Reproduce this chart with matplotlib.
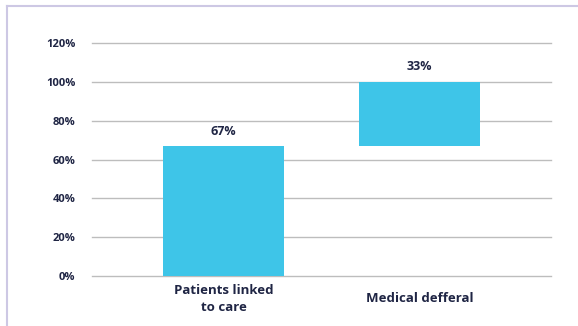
import matplotlib
matplotlib.use('Agg')
import matplotlib.pyplot as plt
from matplotlib.lines import Line2D
import numpy as np

# Waterfall data
categories = ['Patients linked\nto care', 'Medical defferal']
values = [67, 33]
bottoms = [0, 67]
yticks = [0, 20, 40, 60, 80, 100, 120]

bar_color = '#3ec5e8'
text_color = '#1f2544'
font = 'Open Sans'

fig = plt.figure(figsize=(5.78, 3.26), dpi=100)
ax = fig.add_axes([92 / 578, 50 / 326, 459 / 578, 233 / 326])

x = np.arange(len(categories))
bars = ax.bar(x, values, bottom=bottoms, width=0.622, color=bar_color, zorder=2)

# value labels above bars
for xi, v, b in zip(x, values, bottoms):
    ax.annotate('%d%%' % v, (xi, b + v), xytext=(0, 6), textcoords='offset points',
                ha='center', va='bottom', fontsize=9, fontweight='bold',
                color=text_color, family=font)

ax.set_xlim(-0.671, 1.671)
ax.set_ylim(0, 120)
ax.set_yticks(yticks)
ax.set_yticklabels(['%d%%' % t for t in yticks], fontsize=8, fontweight='bold',
                   color=text_color, family=font)
ax.set_xticks(x)
ax.set_xticklabels(categories, fontsize=9.5, fontweight='bold',
                   color=text_color, family=font, linespacing=1.4, va='center')
ax.tick_params(axis='both', length=0)
ax.tick_params(axis='y', pad=12)
ax.tick_params(axis='x', pad=16.5)
ax.grid(axis='y', color='#bdbdbd', linewidth=1, zorder=0)
for gl in ax.yaxis.get_gridlines():
    gl.set_clip_on(False)
for s in ax.spines.values():
    s.set_visible(False)

# light frame at top and left
border = '#cdc8e4'
fig.add_artist(Line2D([6.5 / 578, 1], [1 - 6 / 326, 1 - 6 / 326], color=border, linewidth=1.5))
fig.add_artist(Line2D([6.5 / 578, 6.5 / 578], [0, 1 - 6 / 326], color=border, linewidth=1.5))

fig.savefig('out.png', dpi=100)
